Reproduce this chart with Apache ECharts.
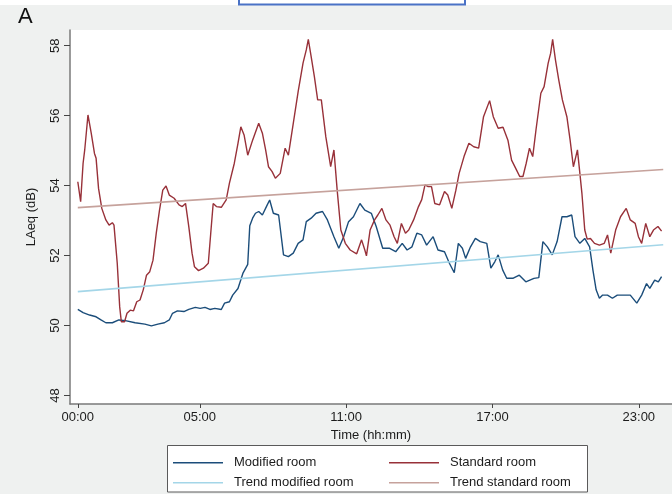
<!DOCTYPE html>
<html>
<head>
<meta charset="utf-8">
<title>LAeq by room</title>
<script src="https://cdn.jsdelivr.net/npm/echarts@6/dist/echarts.min.js"></script>
<style>
  html, body { margin: 0; padding: 0; background: #eff1f0; }
  #chart { width: 672px; height: 494px; }
</style>
</head>
<body>
<div id="chart"></div>
<script>
// Sound level (LAeq, dB) over a day, minutes after 00:00
const standardMinutes = [0, 7, 13, 17, 25, 33, 41, 45, 51, 59, 69, 77, 85, 89, 97, 103, 107, 115, 121, 129, 137, 145, 153, 161, 169, 177, 185, 193, 201, 209, 217, 225, 237, 249, 257, 265, 273, 281, 287, 297, 309, 321, 327, 333, 341, 353, 365, 373, 385, 394, 401, 409, 418, 430, 445, 454, 462, 469, 478, 486, 498, 510, 518, 530, 542, 554, 562, 567, 574, 582, 590, 599, 610, 622, 630, 638, 647, 658, 670, 686, 698, 706, 710, 719, 730, 738, 748, 758, 768, 778, 786, 796, 806, 814, 826, 838, 846, 854, 862, 870, 878, 890, 902, 910, 920, 930, 938, 950, 962, 974, 986, 998, 1013, 1022, 1034, 1046, 1058, 1067, 1079, 1087, 1095, 1103, 1111, 1119, 1127, 1139, 1147, 1157, 1163, 1168, 1175, 1183, 1192, 1203, 1211, 1219, 1223, 1229, 1235, 1240, 1247, 1253, 1261, 1271, 1283, 1295, 1303, 1311, 1323, 1335, 1349, 1359, 1371, 1379, 1387, 1397, 1407, 1416, 1427, 1436];
const standardLaeq = [54.11, 53.54, 54.64, 55.02, 56.02, 55.5, 54.92, 54.78, 53.92, 53.35, 53.02, 52.87, 52.94, 52.87, 51.78, 50.54, 50.11, 50.11, 50.35, 50.44, 50.42, 50.68, 50.73, 51.02, 51.44, 51.54, 51.87, 52.64, 53.3, 53.87, 53.99, 53.73, 53.64, 53.45, 53.4, 53.49, 52.83, 52.07, 51.68, 51.57, 51.64, 51.78, 52.64, 53.49, 53.4, 53.38, 53.59, 54.07, 54.64, 55.21, 55.68, 55.45, 54.87, 55.3, 55.78, 55.5, 55.02, 54.54, 54.4, 54.21, 54.35, 55.07, 54.87, 55.78, 56.69, 57.5, 57.88, 58.18, 57.69, 57.11, 56.45, 56.45, 55.4, 54.54, 55.02, 53.87, 52.73, 52.35, 52.16, 52.05, 52.45, 52.16, 51.99, 52.73, 53.02, 53.16, 53.35, 53.02, 52.87, 52.54, 52.35, 52.92, 52.64, 52.73, 53.02, 53.4, 53.6, 54.02, 53.97, 53.97, 53.49, 53.45, 53.83, 53.73, 53.35, 53.87, 54.35, 54.83, 55.21, 55.11, 55.07, 55.97, 56.43, 55.97, 55.64, 55.67, 55.3, 54.73, 54.45, 54.26, 54.26, 54.64, 55.07, 54.83, 55.59, 56.64, 56.83, 57.5, 57.78, 58.18, 57.59, 57.02, 56.45, 55.97, 55.3, 54.54, 54.73, 55.02, 54.35, 53.78, 52.73, 52.47, 52.49, 52.35, 52.3, 52.35, 52.59, 52.07, 52.73, 53.11, 53.35, 53.02, 52.92, 52.54, 52.35, 52.92, 52.54, 52.73, 52.83, 52.7];

const modifiedMinutes = [0, 13, 29, 45, 57, 69, 85, 101, 117, 141, 165, 181, 197, 213, 225, 233, 245, 261, 273, 289, 301, 313, 325, 337, 353, 361, 373, 381, 394, 406, 418, 423, 430, 437, 445, 454, 466, 472, 481, 494, 506, 518, 530, 542, 554, 562, 574, 586, 602, 614, 630, 642, 654, 666, 678, 694, 706, 722, 734, 750, 766, 782, 798, 810, 822, 834, 846, 858, 874, 886, 902, 914, 926, 936, 946, 954, 966, 978, 990, 1006, 1016, 1026, 1034, 1045, 1055, 1070, 1086, 1102, 1122, 1134, 1144, 1155, 1167, 1179, 1191, 1203, 1215, 1223, 1235, 1247, 1259, 1267, 1275, 1283, 1291, 1303, 1315, 1327, 1343, 1359, 1375, 1387, 1399, 1407, 1419, 1428, 1436];
const modifiedLaeq = [50.46, 50.37, 50.3, 50.25, 50.16, 50.08, 50.08, 50.16, 50.14, 50.08, 50.04, 49.99, 50.04, 50.08, 50.16, 50.35, 50.42, 50.4, 50.46, 50.52, 50.49, 50.52, 50.46, 50.49, 50.46, 50.64, 50.68, 50.87, 51.06, 51.49, 51.75, 52.85, 53.07, 53.21, 53.26, 53.16, 53.45, 53.59, 53.21, 53.16, 52.02, 51.97, 52.07, 52.35, 52.45, 52.97, 53.07, 53.21, 53.26, 53.02, 52.54, 52.21, 52.54, 52.97, 53.11, 53.49, 53.3, 53.21, 52.83, 52.21, 52.21, 52.11, 52.35, 52.16, 52.25, 52.64, 52.59, 52.3, 52.54, 52.16, 52.11, 51.78, 51.51, 52.35, 52.21, 51.92, 52.25, 52.49, 52.4, 52.35, 51.64, 51.83, 52.02, 51.59, 51.35, 51.35, 51.44, 51.25, 51.35, 51.37, 52.4, 52.25, 52.02, 52.4, 53.11, 53.11, 53.16, 52.54, 52.35, 52.49, 52.25, 51.59, 51.02, 50.78, 50.87, 50.87, 50.78, 50.87, 50.87, 50.87, 50.64, 50.87, 51.2, 51.06, 51.3, 51.25, 51.4];

// Linear trends, evaluated at the start and end of the day
const trendMinutes = [0, 1440];
const trendModified = [50.97, 52.31];
const trendStandard = [53.37, 54.46];

// Axis ticks
const xTickMinutes = [0, 300, 660, 1020, 1380];
const yTickValues = [48, 50, 52, 54, 56, 58];

const names = {
  modified: 'Modified room',
  standard: 'Standard room',
  trendModified: 'Trend modified room',
  trendStandard: 'Trend standard room'
};

const colors = {
  modified: '#1b4d7a',
  standard: '#983139',
  trendModified: '#a4d6e8',
  trendStandard: '#c6a29c'
};

const pairs = (xs, ys) => xs.map((x, i) => [x, ys[i]]);
const hhmm = (m) => {
  const h = Math.floor(m / 60), mm = Math.round(m % 60);
  return String(h).padStart(2, '0') + ':' + String(mm).padStart(2, '0');
};

const FONT = '"Liberation Sans", Arial, Helvetica, sans-serif';
const TEXT = '#1c1c1c';

const chart = echarts.init(document.getElementById('chart'), null, { renderer: 'canvas' });

const lineSeries = (key, xs, ys, width) => ({
  name: names[key],
  type: 'line',
  data: pairs(xs, ys),
  showSymbol: false,
  symbol: 'none',
  lineStyle: { color: colors[key], width: width },
  itemStyle: { color: colors[key] },
  emphasis: { disabled: true },
  animation: false
});

const legendBase = {
  orient: 'vertical',
  top: 452.7,
  itemWidth: 50,
  itemHeight: 1.5,
  itemGap: 0,
  icon: 'rect',
  padding: 0,
  selectedMode: false,
  textStyle: {
    fontFamily: FONT,
    fontSize: 13,
    color: TEXT,
    lineHeight: 20,
    padding: [0, 0, 0, 6]
  }
};

chart.setOption({
  backgroundColor: '#eff1f0',
  animation: false,
  grid: {
    left: 70,
    top: 30,
    width: 616,
    height: 374,
    show: true,
    backgroundColor: '#ffffff',
    borderWidth: 0
  },
  xAxis: {
    type: 'value',
    min: -19.2,
    max: 1461.6,
    name: 'Time (hh:mm)',
    nameLocation: 'middle',
    nameGap: 22,
    nameTextStyle: { fontFamily: FONT, fontSize: 13, color: TEXT },
    axisLine: { show: true, onZero: false, lineStyle: { color: '#7a7a7a', width: 1.5 } },
    axisTick: { show: true, length: 4, customValues: xTickMinutes, lineStyle: { color: '#444' } },
    axisLabel: {
      customValues: xTickMinutes,
      formatter: (v) => hhmm(v),
      margin: 7,
      fontFamily: FONT,
      fontSize: 13,
      color: TEXT
    },
    splitLine: { show: false }
  },
  yAxis: {
    type: 'value',
    min: 47.757,
    max: 58.449,
    name: 'LAeq (dB)',
    nameLocation: 'middle',
    nameGap: 32,
    nameTextStyle: { fontFamily: FONT, fontSize: 13, color: TEXT },
    axisLine: { show: true, onZero: false, lineStyle: { color: '#7a7a7a', width: 1.5 } },
    axisTick: { show: true, length: 6, customValues: yTickValues, lineStyle: { color: '#444' } },
    axisLabel: {
      customValues: yTickValues,
      rotate: 90,
      margin: 8,
      fontFamily: FONT,
      fontSize: 13,
      color: TEXT
    },
    splitLine: { show: false }
  },
  legend: [
    Object.assign({}, legendBase, { left: 173, data: [names.modified, names.trendModified] }),
    Object.assign({}, legendBase, { left: 389, data: [names.standard, names.trendStandard] })
  ],
  graphic: [
    { type: 'rect', z: 0, shape: { x: 0, y: 0, width: 672, height: 5 }, style: { fill: '#ffffff' } },
    { type: 'rect', z: 1, shape: { x: 239, y: -6, width: 226, height: 10.5 }, style: { fill: '#ffffff', stroke: '#4a72c6', lineWidth: 2 } },
    { type: 'text', z: 1, style: { x: 18, y: 16.5, text: 'A', font: '22px ' + FONT, fill: '#111', verticalAlign: 'middle' } },
    { type: 'rect', z: 0, shape: { x: 167.5, y: 445.5, width: 420, height: 46.5 }, style: { fill: '#ffffff', stroke: '#5a5a5a', lineWidth: 1 } }
  ],
  series: [
    lineSeries('modified', modifiedMinutes, modifiedLaeq, 1.4),
    lineSeries('standard', standardMinutes, standardLaeq, 1.4),
    lineSeries('trendModified', trendMinutes, trendModified, 1.6),
    lineSeries('trendStandard', trendMinutes, trendStandard, 1.6)
  ]
});
</script>
</body>
</html>
